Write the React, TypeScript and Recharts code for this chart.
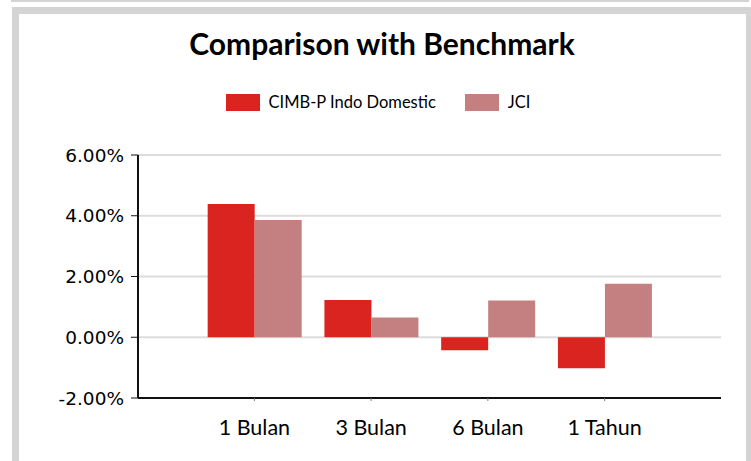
import { BarChart, Bar, XAxis, YAxis, CartesianGrid } from 'recharts';

const periods = ['1 Bulan', '3 Bulan', '6 Bulan', '1 Tahun'];
const fundReturns = [4.39, 1.23, -0.43, -1.02];
const jciReturns = [3.86, 0.65, 1.21, 1.76];
const yTicks = [-2, 0, 2, 4, 6];

const seriesNames = ['CIMB-P Indo Domestic', 'JCI'];
const seriesColors = ['#DA2420', '#C48080'];

const data = periods.map((p, i) => ({
  period: p,
  fund: fundReturns[i],
  jci: jciReturns[i],
}));

const frameGray = '#d4d4d4';

export default function App() {
  return (
    <div
      style={{
        position: 'absolute',
        left: 0,
        top: 0,
        width: 751,
        height: 461,
        background: '#fff',
        overflow: 'hidden',
      }}
    >
      {/* frame bits */}
      <div style={{ position: 'absolute', left: 11, top: 0, width: 738, height: 1.5, background: frameGray }} />
      <div style={{ position: 'absolute', left: 12, top: 7, width: 739, height: 7, background: frameGray }} />
      <div style={{ position: 'absolute', left: 12, top: 7, width: 7, height: 454, background: frameGray }} />
      <div style={{ position: 'absolute', left: 746, top: 7, width: 5, height: 454, background: frameGray }} />

      <div
        style={{
          position: 'absolute',
          left: 0,
          top: 25,
          width: 764,
          textAlign: 'center',
          fontFamily: 'Lato',
          fontWeight: 700,
          fontSize: 30,
          color: '#000',
          lineHeight: '36px',
        }}
      >
        Comparison with Benchmark
      </div>

      <div
        style={{
          position: 'absolute',
          left: 0,
          top: 93,
          width: 756,
          display: 'flex',
          justifyContent: 'center',
          alignItems: 'center',
          fontFamily: 'Lato',
          fontSize: 16.5,
          color: '#000',
          height: 18,
        }}
      >
        {seriesNames.map((name, i) => (
          <div key={name} style={{ display: 'flex', alignItems: 'center', marginLeft: i === 0 ? 0 : 29 }}>
            <div style={{ width: 34, height: 17, background: seriesColors[i], marginRight: 9 }} />
            <span>{name}</span>
          </div>
        ))}
      </div>

      <div style={{ position: 'absolute', left: 0, top: 0 }}>
        <BarChart
          width={751}
          height={461}
          data={data}
          margin={{ top: 155, right: 30, bottom: 0, left: 0 }}
          barCategoryGap="10%"
          barGap={0}
        >
          <CartesianGrid horizontal vertical={false} stroke="#dcdcdc" strokeWidth={2} />
          <XAxis
            dataKey="period"
            height={63}
            padding={{ left: 58, right: 58 }}
            axisLine={{ stroke: '#111', strokeWidth: 2 }}
            tickLine={{ stroke: '#777' }}
            tickSize={3}
            tickMargin={19}
            tick={{ fill: '#000', fontFamily: 'Lato', fontSize: 21.5 }}
          />
          <YAxis
            width={138}
            domain={[-2, 6]}
            ticks={yTicks}
            interval={0}
            axisLine={{ stroke: '#111', strokeWidth: 2 }}
            tickLine={{ stroke: '#111' }}
            tickSize={7}
            tickMargin={7}
            tickFormatter={(v: number) => `${v.toFixed(2)}%`}
            tick={{ fill: '#000', fontFamily: 'DejaVu Sans', fontSize: 18.5 }}
          />
          <Bar dataKey="fund" name={seriesNames[0]} fill={seriesColors[0]} isAnimationActive={false} />
          <Bar dataKey="jci" name={seriesNames[1]} fill={seriesColors[1]} isAnimationActive={false} />
        </BarChart>
      </div>
    </div>
  );
}
